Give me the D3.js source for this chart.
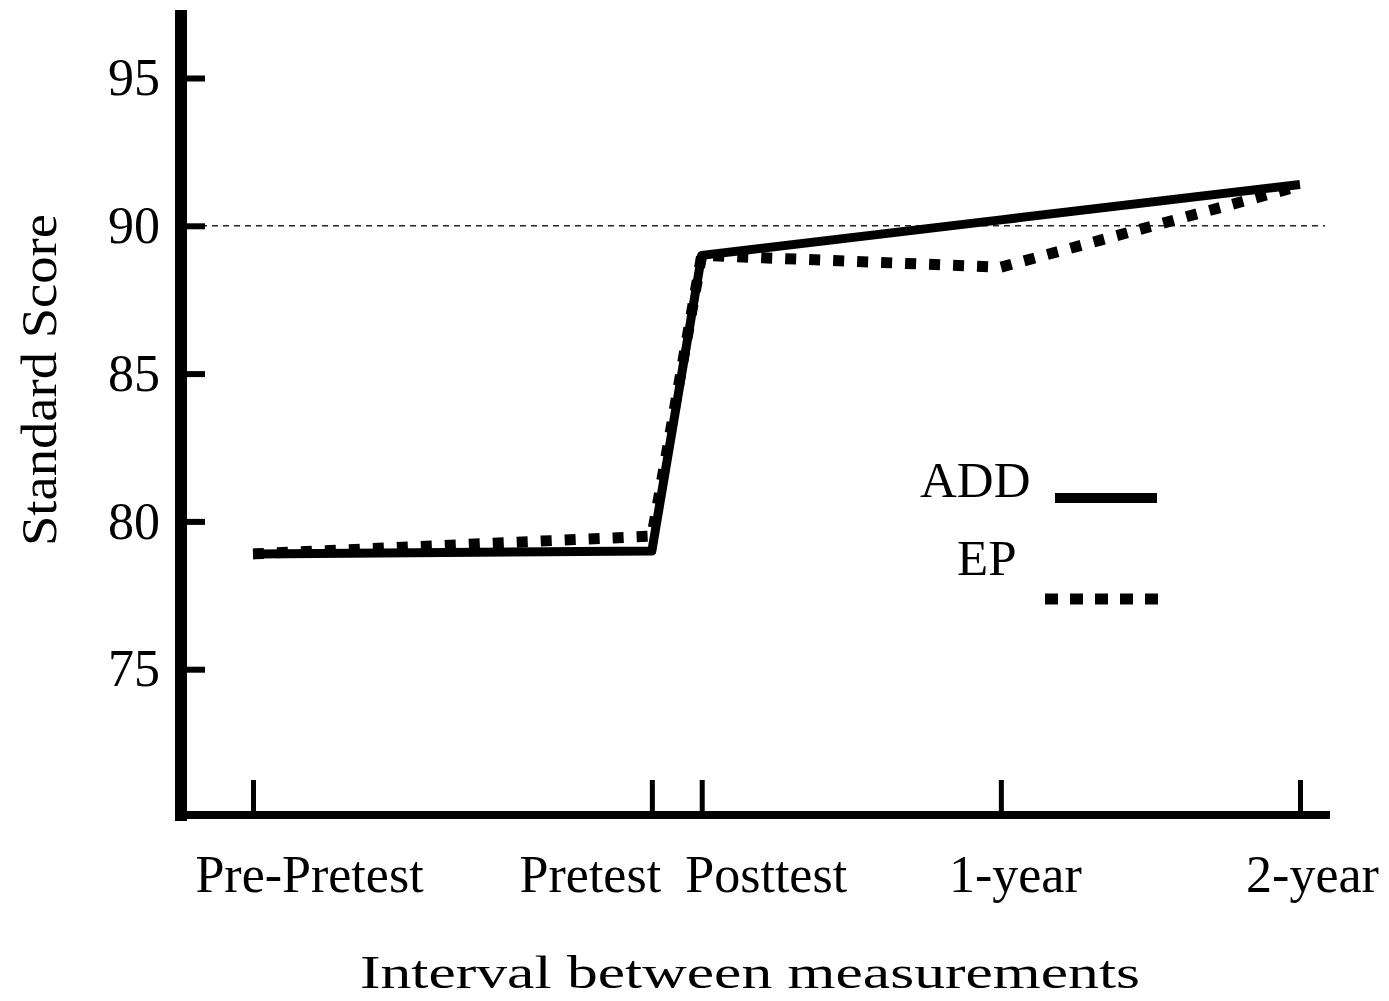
<!DOCTYPE html>
<html>
<head>
<meta charset="utf-8">
<script src="https://cdn.jsdelivr.net/npm/d3@7"></script>
<style>
  body { margin: 0; background: #fff; }
  svg { display: block; }
</style>
</head>
<body>
<div id="chart"></div>
<script>
// measurement points (months from the pre-pretest) and their labels
var timepoints = [0, 16, 18, 30, 42];
var timeLabels = ["Pre-Pretest", "Pretest", "Posttest", "1-year", "2-year"];

var seriesNames = ["ADD", "EP"];
var addScores = [78.9, 79.0, 89.0, 90.2, 91.4];
var epScores = [78.9, 79.5, 89.0, 88.6, 91.35];

var yTicks = [75, 80, 85, 90, 95];
var referenceScore = 90;

var width = 1389, height = 1001;
var fontFamily = '"Liberation Serif", "Times New Roman", serif';

var svg = d3.select("#chart")
  .append("svg")
    .attr("width", width)
    .attr("height", height)
    .style("font-family", fontFamily);

svg.append("rect").attr("width", width).attr("height", height).attr("fill", "#fff");

var xScale = d3.scaleLinear()
  .domain([0, 42])
  .range([253, 1300]);

var yScale = d3.scaleLinear()
  .domain([70, 97.3])
  .range([817, 10]);

// dashed reference line at the norm score
svg.append("line")
  .attr("x1", 190).attr("x2", 1325)
  .attr("y1", yScale(referenceScore)).attr("y2", yScale(referenceScore))
  .attr("stroke", "#222")
  .attr("stroke-width", 1.6)
  .attr("stroke-dasharray", "6,5");

// axis lines, drawn thick like the scan
svg.append("line")
  .attr("x1", 181).attr("x2", 181)
  .attr("y1", 10).attr("y2", 821)
  .attr("stroke", "#000").attr("stroke-width", 12);

svg.append("line")
  .attr("x1", 176).attr("x2", 1330)
  .attr("y1", 815).attr("y2", 815)
  .attr("stroke", "#000").attr("stroke-width", 8);

// x axis ticks point upward
var xAxis = d3.axisBottom(xScale)
  .tickValues(timepoints)
  .tickFormat(function(d, i) { return timeLabels[i]; })
  .tickSizeInner(-35)
  .tickSizeOuter(0)
  .tickPadding(40);

var gx = svg.append("g")
  .attr("transform", "translate(0,815)")
  .call(xAxis);
gx.select(".domain").remove();
gx.selectAll(".tick line").attr("stroke", "#000").attr("stroke-width", 5);

// the labels sit off-centre from their ticks in the original
var labelShift = [56, -62, 64, 14, 12];
gx.selectAll(".tick text")
  .attr("fill", "#000")
  .style("font-size", "52px")
  .style("font-family", fontFamily)
  .attr("dx", function(d, i) { return labelShift[i]; });

// y axis ticks point inward
var yAxis = d3.axisLeft(yScale)
  .tickValues(yTicks)
  .tickSizeInner(-24)
  .tickSizeOuter(0)
  .tickPadding(21);

var gy = svg.append("g")
  .attr("transform", "translate(181,0)")
  .call(yAxis);
gy.select(".domain").remove();
gy.selectAll(".tick line").attr("stroke", "#000").attr("stroke-width", 6);
gy.selectAll(".tick text")
  .attr("fill", "#000")
  .style("font-size", "52px")
  .style("font-family", fontFamily);

// axis titles
svg.append("text")
  .attr("x", 750)
  .attr("y", 988)
  .attr("text-anchor", "middle")
  .attr("textLength", 780)
  .attr("lengthAdjust", "spacingAndGlyphs")
  .style("font-size", "46px")
  .text("Interval between measurements");

svg.append("text")
  .attr("transform", "translate(56,380) rotate(-90)")
  .attr("text-anchor", "middle")
  .attr("textLength", 332)
  .attr("lengthAdjust", "spacingAndGlyphs")
  .style("font-size", "50px")
  .text("Standard Score");

// lines
var line = d3.line()
  .x(function(d, i) { return xScale(timepoints[i]); })
  .y(function(d) { return yScale(d); });

svg.append("path")
  .datum(epScores)
  .attr("fill", "none")
  .attr("stroke", "#000")
  .attr("stroke-width", 11)
  .attr("stroke-dasharray", "11,13")
  .attr("d", line);

svg.append("path")
  .datum(addScores)
  .attr("fill", "none")
  .attr("stroke", "#000")
  .attr("stroke-width", 9)
  .attr("stroke-linejoin", "round")
  .attr("d", line);

// handmade legend
svg.append("text")
  .attr("x", 920).attr("y", 497)
  .style("font-size", "51px")
  .text(seriesNames[0]);
svg.append("line")
  .attr("x1", 1055).attr("x2", 1157)
  .attr("y1", 498).attr("y2", 498)
  .attr("stroke", "#000").attr("stroke-width", 10);

svg.append("text")
  .attr("x", 957).attr("y", 575)
  .style("font-size", "51px")
  .text(seriesNames[1]);
svg.append("line")
  .attr("x1", 1045).attr("x2", 1160)
  .attr("y1", 599).attr("y2", 599)
  .attr("stroke", "#000").attr("stroke-width", 11)
  .attr("stroke-dasharray", "13,12");
</script>
</body>
</html>
